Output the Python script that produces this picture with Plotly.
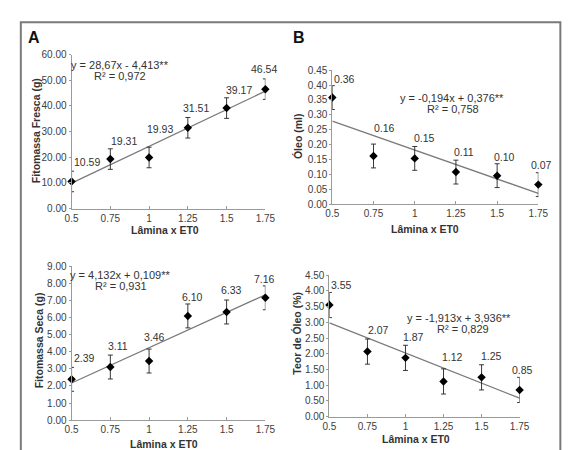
import plotly.graph_objects as go

# ---------------- data ----------------
lamina = [0.5, 0.75, 1.0, 1.25, 1.5, 1.75]
lamina_ticks = ["0.5", "0.75", "1", "1.25", "1.5", "1.75"]

fito_fresca = [10.59, 19.31, 19.93, 31.51, 39.17, 46.54]
fito_fresca_err = [4.0, 4.0, 4.0, 4.0, 4.0, 4.0]
fito_fresca_fit = (28.67, -4.413)

oleo = [0.358, 0.162, 0.154, 0.108, 0.096, 0.066]
oleo_err = [0.04, 0.04, 0.04, 0.04, 0.04, 0.04]
oleo_fit = (-0.194, 0.376)

fito_seca = [2.39, 3.11, 3.46, 6.10, 6.33, 7.16]
fito_seca_err = [0.7, 0.7, 0.7, 0.7, 0.7, 0.7]
fito_seca_fit = (4.132, 0.109)

teor_oleo = [3.55, 2.07, 1.87, 1.12, 1.25, 0.85]
teor_oleo_err = [0.4, 0.4, 0.4, 0.4, 0.4, 0.4]
teor_oleo_fit = (-1.913, 3.936)

W, H = 574, 450
FONT = "Liberation Sans, Arial, sans-serif"

panels = [
    dict(name="A", y=fito_fresca, err=fito_fresca_err, fit=fito_fresca_fit,
         ytitle="Fitomassa Fresca (g)", ymax=60, dtick=10,
         eq="y = 28,67x - 4,413**", r2="R² = 0,972",
         px=(58.3, 258.0), py=(200.0, 41.7),
         eqpos=(108, 52), r2pos=(108, 63.5), ytpos=(21, 120), xtpos=(155, 222),
         offs=[(15, -19), (14, -18), (11, -28), (8, -20), (12, -18), (-1, -20)]),
    dict(name="B", y=oleo, err=oleo_err, fit=oleo_fit,
         ytitle="Óleo (ml)", ymax=0.45, dtick=0.05,
         eq="y = -0,194x + 0,376**", r2="R² = 0,758",
         px=(327.0, 539.3), py=(195.5, 57.7),
         eqpos=(450, 86), r2pos=(451, 98), ytpos=(291, 125), xtpos=(423, 221),
         offs=[(12, -19), (11, -28), (10, -20), (8, -20), (7, -19), (3, -20)]),
    dict(name="C", y=fito_seca, err=fito_seca_err, fit=fito_seca_fit,
         ytitle="Fitomassa Seca (g)", ymax=9, dtick=1,
         eq="y = 4,132x + 0,109**", r2="R² = 0,931",
         px=(58.3, 258.0), py=(417.3, 259.3),
         eqpos=(108.5, 267.7), r2pos=(109, 279), ytpos=(25, 335), xtpos=(154, 442),
         offs=[(13, -21), (8, -21), (5, -24), (5, -19), (5, -22), (-1, -19)]),
    dict(name="D", y=teor_oleo, err=teor_oleo_err, fit=teor_oleo_fit,
         ytitle="Teor de Óleo (%)", ymax=4.5, dtick=0.5,
         eq="y = -1,913x + 3,936**", r2="R² = 0,829",
         px=(324.0, 520.0), py=(413.7, 268.3),
         eqpos=(458, 312.3), r2pos=(462, 324), ytpos=(291, 328), xtpos=(413, 437),
         offs=[(12, -20), (11, -22), (8, -21), (9, -24), (10, -21), (3, -20)]),
]

fig = go.Figure()
annotations = []
layout_axes = {}

for i, p in enumerate(panels, start=1):
    xa = "x" if i == 1 else f"x{i}"
    ya = "y" if i == 1 else f"y{i}"
    # trend line from regression coefficients
    a, b = p["fit"]
    xs = [lamina[0], lamina[-1]]
    fig.add_trace(go.Scatter(
        x=xs, y=[a * v + b for v in xs], mode="lines",
        line=dict(color="#7a7a7a", width=1.3), xaxis=xa, yaxis=ya,
        showlegend=False, hoverinfo="skip", cliponaxis=False))
    # points with error bars
    fig.add_trace(go.Scatter(
        x=lamina, y=p["y"], mode="markers",
        marker=dict(symbol="diamond", size=6.5, color="#000000"),
        error_y=dict(type="data", array=p["err"], color="#222222",
                     thickness=0.9, width=2.5),
        xaxis=xa, yaxis=ya, showlegend=False, cliponaxis=False))

    x0, x1 = p["px"]
    yb, yt = p["py"]
    layout_axes["xaxis" if i == 1 else f"xaxis{i}"] = dict(
        domain=[x0 / W, x1 / W], range=[0.5, 1.75], anchor=ya,
        tickvals=lamina, ticktext=lamina_ticks,
        showline=True, linecolor="#9a9a9a", linewidth=1,
        ticks="inside", ticklen=3, tickcolor="#9a9a9a",
        showgrid=False, zeroline=False,
        tickfont=dict(family=FONT, size=10, color="#404040"))
    layout_axes["yaxis" if i == 1 else f"yaxis{i}"] = dict(
        domain=[1 - yb / H, 1 - yt / H], range=[0, p["ymax"]], anchor=xa,
        dtick=p["dtick"], tick0=0, tickformat=".2f",
        showline=True, linecolor="#9a9a9a", linewidth=1,
        ticks="outside", ticklen=2, tickcolor="#9a9a9a",
        showgrid=False, zeroline=False,
        tickfont=dict(family=FONT, size=10, color="#404040"))

    # data labels
    for xv, yv, (dx, dy) in zip(lamina, p["y"], p["offs"]):
        annotations.append(dict(
            x=xv, y=yv, xref=xa, yref=ya, text=f"{yv:.2f}", showarrow=False,
            xshift=dx, yshift=-dy, font=dict(family=FONT, size=10.5, color="#333333")))
    # equation + R²
    for txt, (cx, cy) in ((p["eq"], p["eqpos"]), (p["r2"], p["r2pos"])):
        annotations.append(dict(
            x=cx / W, y=1 - cy / H, xref="paper", yref="paper", text=txt,
            showarrow=False, xanchor="center", yanchor="middle",
            font=dict(family=FONT, size=11, color="#333333")))
    # axis titles
    annotations.append(dict(
        x=p["ytpos"][0] / W, y=1 - p["ytpos"][1] / H, xref="paper", yref="paper",
        text=f"<b>{p['ytitle']}</b>", textangle=-90, showarrow=False,
        xanchor="center", yanchor="middle",
        font=dict(family=FONT, size=10.5, color="#333333")))
    annotations.append(dict(
        x=p["xtpos"][0] / W, y=1 - p["xtpos"][1] / H, xref="paper", yref="paper",
        text="<b>Lâmina x ET0</b>", showarrow=False,
        xanchor="center", yanchor="middle",
        font=dict(family=FONT, size=10.5, color="#333333")))

# panel letters
for letter, (cx, cy) in (("A", (20, 24)), ("B", (293, 24))):
    annotations.append(dict(
        x=cx / W, y=1 - cy / H, xref="paper", yref="paper", text=f"<b>{letter}</b>",
        showarrow=False, xanchor="center", yanchor="middle",
        font=dict(family=FONT, size=16, color="#111111")))

fig.update_layout(
    width=W, height=H, margin=dict(l=0, r=0, t=0, b=0),
    paper_bgcolor="#ffffff", plot_bgcolor="rgba(0,0,0,0)",
    annotations=annotations,
    shapes=[dict(type="rect", xref="paper", yref="paper",
                 x0=6 / W, x1=562 / W, y0=-0.02, y1=1 - 8.5 / H,
                 line=dict(color="#7a7a7a", width=2))],
    **layout_axes)

fig.write_html("out.html")
